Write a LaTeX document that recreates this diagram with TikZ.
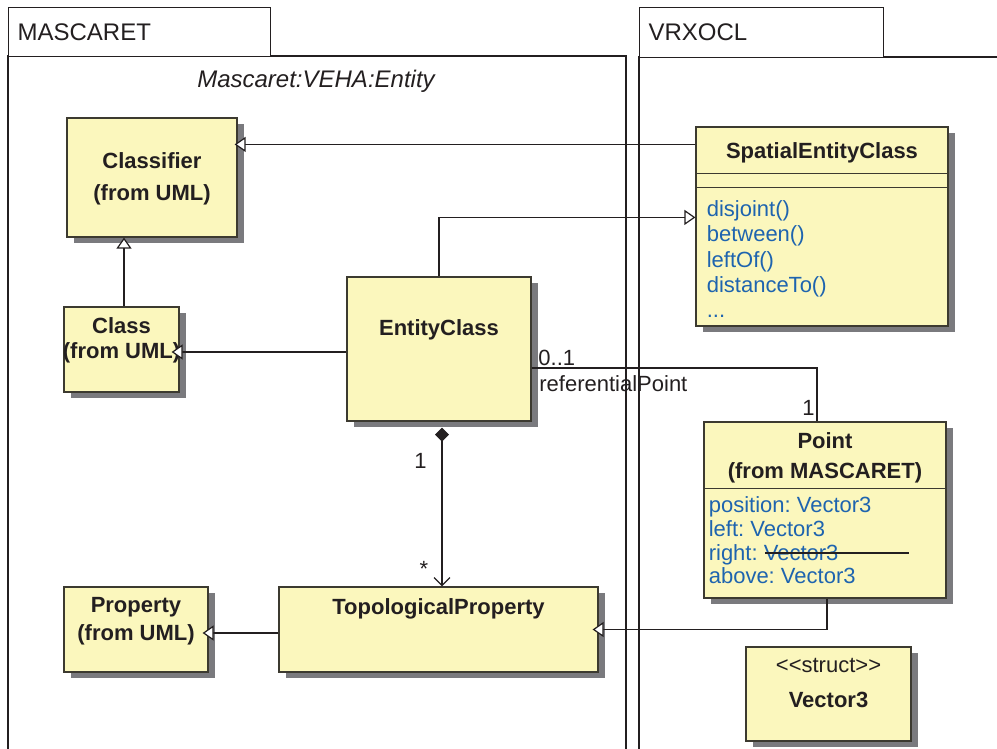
\documentclass[tikz,border=0pt]{standalone}
\usepackage{fontspec}
\setmainfont{Liberation Sans}
\usetikzlibrary{arrows.meta, positioning, shadows}
\definecolor{boxfill}{RGB}{251, 247, 189}
\definecolor{boxline}{RGB}{60, 58, 48}
\definecolor{shade}{RGB}{122, 122, 126}
\definecolor{member}{RGB}{30, 100, 175}
\definecolor{ink}{RGB}{35, 31, 32}
\frenchspacing

\begin{document}
\begin{tikzpicture}[x=0.5pt, y=-0.5pt,
    umlclass/.style={draw=boxline, fill=boxfill, line width=0.6pt, inner sep=0pt,
      drop shadow={shadow xshift=3.5pt, shadow yshift=-3pt, fill=shade, opacity=1}},
    classname/.style={font=\bfseries\fontsize{11}{#1}\selectfont, text=ink, align=center, inner sep=0pt},
    members/.style={font=\fontsize{11}{#1}\selectfont, text=member, align=left, inner sep=0pt},
    role/.style={font=\fontsize{11}{13}\selectfont, text=ink, inner sep=0pt, anchor=base west},
    pkgtab/.style={draw=ink, line width=0.6pt, fill=white, inner sep=0pt, anchor=north west,
      align=left, font=\fontsize{12}{14}\selectfont, text=ink},
    frame/.style={draw=ink, line width=0.6pt},
    compartment/.style={draw=boxline, line width=0.6pt},
    gen/.style={draw=ink, line width=0.6pt, -{Triangle[length=5.5pt, width=7.5pt, fill=white]}},
    assoc/.style={draw=ink, line width=0.6pt},
    comp/.style={draw=ink, line width=0.6pt, {Diamond[length=7pt, width=7pt]}-{Straight Barb[length=4pt, width=8pt]}}]
    \useasboundingbox (0,0) rectangle (997,749);

    % packages
    \draw[frame] (8,749) -- (8,56) -- (626,56) -- (626,749);
    \draw[frame] (639,749) -- (639,57) -- (997,57);
    \node[pkgtab, minimum width=131pt, minimum height=24.5pt, text width=122pt] (mascaretTab) at (8,7) {MASCARET};
    \node[pkgtab, minimum width=122pt, minimum height=25pt, text width=113pt] (vrxoclTab) at (639,7) {VRXOCL};
    \node[font=\itshape\fontsize{12}{14}\selectfont, text=ink, inner sep=0pt, anchor=base] (pkgPath) at (316,88) {Mascaret:VEHA:Entity};

    % classes
    \node[umlclass, minimum width=85pt, minimum height=59.5pt] (classifier) at (152,177.5) {};
    \node[classname=16pt, below=17.5pt of classifier.north] (classifierName) {Classifier\\(from UML)};

    \node[umlclass, minimum width=57.5pt, minimum height=42.5pt] (class) at (121.5,349.5) {};
    \node[classname=12.5pt, below=5.5pt of class.north] (className) {Class\\(from UML)};

    \node[umlclass, minimum width=92pt, minimum height=72pt] (entity) at (439,349) {};
    \node[classname=13pt, below=21.5pt of entity.north] (entityName) {EntityClass};

    \node[umlclass, minimum width=126pt, minimum height=99.5pt] (spatial) at (822,226.5) {};
    \node[classname=13pt, below=8pt of spatial.north] (spatialName) {SpatialEntityClass};
    \draw[compartment] ([yshift=-23.5pt]spatial.north west) -- ([yshift=-23.5pt]spatial.north east);
    \draw[compartment] ([yshift=-30.5pt]spatial.north west) -- ([yshift=-30.5pt]spatial.north east);
    \node[members=12.6pt, below right=37pt and 5.5pt of spatial.north west] (spatialOps)
        {disjoint()\\between()\\leftOf()\\distanceTo()\\...};

    \node[umlclass, minimum width=121pt, minimum height=88pt] (point) at (825,510) {};
    \node[classname=15pt, below=5.5pt of point.north] (pointName) {Point\\(from MASCARET)};
    \draw[compartment] ([yshift=-33.5pt]point.north west) -- ([yshift=-33.5pt]point.north east);
    \node[members=11.85pt, below right=37.5pt and 2.5pt of point.north west] (pointAttrs)
        {position: Vector3\\left: Vector3\\right: Vector3\\above: Vector3};
    \coordinate (strikeA) at (765,553);
    \coordinate (strikeB) at (909,553);
    \draw[assoc] (strikeA) -- (strikeB);

    \node[umlclass, minimum width=72pt, minimum height=42.5pt] (property) at (136,629.5) {};
    \node[classname=14pt, below=5.5pt of property.north] (propertyName) {Property\\(from UML)};

    \node[umlclass, minimum width=159.5pt, minimum height=42.5pt] (topo) at (438.5,629.5) {};
    \node[classname=13pt, below=6pt of topo.north] (topoName) {TopologicalProperty};

    \node[umlclass, minimum width=82.5pt, minimum height=47pt] (vector) at (828.5,694) {};
    \node[classname=17.5pt, below=5.75pt of vector.north] (vectorName) {\mdseries{<}{<}struct{>}{>}\\Vector3};

    % relations
    \draw[gen, shorten >=-1.5pt] ([yshift=-9pt]spatial.north west) coordinate (s1) -- (s1 -| classifier.east);
    \draw[gen, shorten >=-4pt] ([yshift=-1.5pt]entity.west) coordinate (e1) -- (e1 -| class.east);
    \draw[gen] ([xshift=1.25pt]class.north) coordinate (c1) -- (c1 |- classifier.south);
    \draw[gen] (entity.north) |- ([yshift=-45.5pt]spatial.north west);
    \draw[assoc] ([yshift=-9.5pt]entity.east) -| ([xshift=-4pt]point.north);
    \draw[gen, shorten >=-3pt] ([xshift=1pt]point.south) |- (topo.east);
    \draw[gen, shorten >=-3pt] ([yshift=-1.75pt]topo.west) coordinate (t1) -- (t1 -| property.east);
    \draw[comp, shorten <=3pt] ([xshift=1.5pt]entity.south) coordinate (k1) -- (k1 |- topo.north);

    % multiplicities and roles
    \node[role] (refMult) at (538,365) {0..1};
    \node[role] (refRole) at (539,391) {referentialPoint};
    \node[role] (pointMult) at (802,415) {1};
    \node[role] (wholeMult) at (414,468) {1};
    \node[role, anchor=center] (partMult) at (424,569) {*};
\end{tikzpicture}
\end{document}
